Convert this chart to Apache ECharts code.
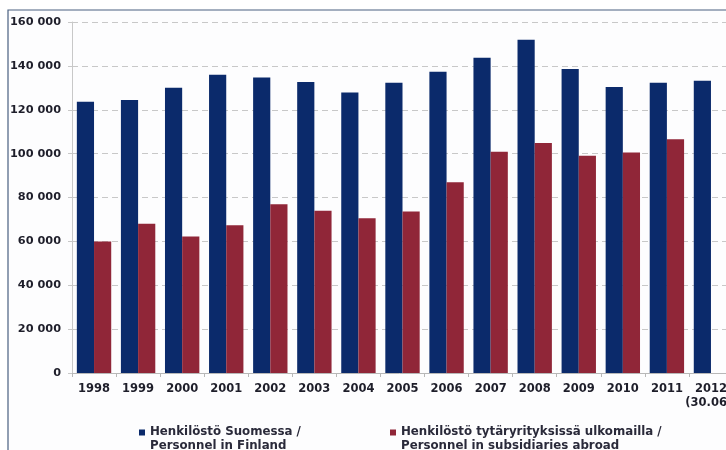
<!DOCTYPE html>
<html>
<head>
<meta charset="utf-8">
<script src="https://cdn.jsdelivr.net/npm/echarts@6/dist/echarts.min.js"></script>
<style>
html,body{margin:0;padding:0;background:#fff;}
#chart{width:726px;height:450px;}
</style>
</head>
<body>
<div id="chart"></div>
<script>
const categories = ['1998','1999','2000','2001','2002','2003','2004','2005','2006','2007','2008','2009','2010','2011','2012\n(30.06.)'];
const personnelFinland = [123600,124500,130000,135900,134700,132600,127900,132300,137300,143700,151900,138600,130400,132300,133200];
const personnelAbroad = [59900,68000,62200,67400,76900,74000,70500,73600,87000,100800,104900,99000,100500,106600,null];
const seriesNames = ['Henkilöstö Suomessa /\nPersonnel in Finland','Henkilöstö tytäryrityksissä ulkomailla /\nPersonnel in subsidiaries abroad'];
const yTicks = {min:0, max:160000, interval:20000};

const chart = echarts.init(document.getElementById('chart'));
const font = '"DejaVu Sans", Arial, sans-serif';
const legendIcon = 'path://M0,0H6V6H0Z M0,19H0.01V19.01H0Z';
chart.setOption({
  backgroundColor:'#ffffff',
  animation:false,
  graphic:[{type:'rect', shape:{x:8,y:10,width:800,height:500}, style:{fill:'#fdfdfe', stroke:'#4a6080', lineWidth:1.2}, z:-10}],
  grid:{left:72, top:22, bottom:77, right:-7, outerBoundsMode:'none', containLabel:false},
  legend:[
    {data:[seriesNames[0]], left:134, top:420, icon:legendIcon, itemWidth:6, itemHeight:19, itemGap:0,
     textStyle:{fontFamily:font, fontWeight:'bold', fontSize:11.8, color:'#2a2a3a', lineHeight:14}},
    {data:[seriesNames[1]], left:385, top:420, icon:legendIcon, itemWidth:6, itemHeight:19, itemGap:0,
     textStyle:{fontFamily:font, fontWeight:'bold', fontSize:11.8, color:'#2a2a3a', lineHeight:14}}
  ],
  xAxis:{type:'category', data:categories,
    axisLine:{lineStyle:{color:'#b8b8b8'}},
    axisTick:{show:true, length:4, lineStyle:{color:'#b8b8b8'}},
    axisLabel:{interval:0, fontFamily:font, fontWeight:'bold', fontSize:11.5, color:'#1e1e2a', margin:9, lineHeight:14, hideOverlap:false}},
  yAxis:{type:'value', min:yTicks.min, max:yTicks.max, interval:yTicks.interval,
    axisLine:{show:true, lineStyle:{color:'#c8c8c8'}},
    axisTick:{show:true, length:4, lineStyle:{color:'#c8c8c8'}},
    splitLine:{lineStyle:{color:'#c8c8c8', type:[6,4]}},
    axisLabel:{fontFamily:font, fontWeight:'bold', fontSize:11.3, color:'#1e1e2a', margin:11,
      formatter:v=>String(v).replace(/\B(?=(\d{3})+(?!\d))/g,' ')}},
  series:[
    {name:seriesNames[0], type:'bar', data:personnelFinland, barGap:'0%', barCategoryGap:'22%',
     itemStyle:{color:'#0b2a6b'}},
    {name:seriesNames[1], type:'bar', data:personnelAbroad, barGap:'0%', barCategoryGap:'22%',
     itemStyle:{color:'#902638'}}
  ]
});
</script>
</body>
</html>
